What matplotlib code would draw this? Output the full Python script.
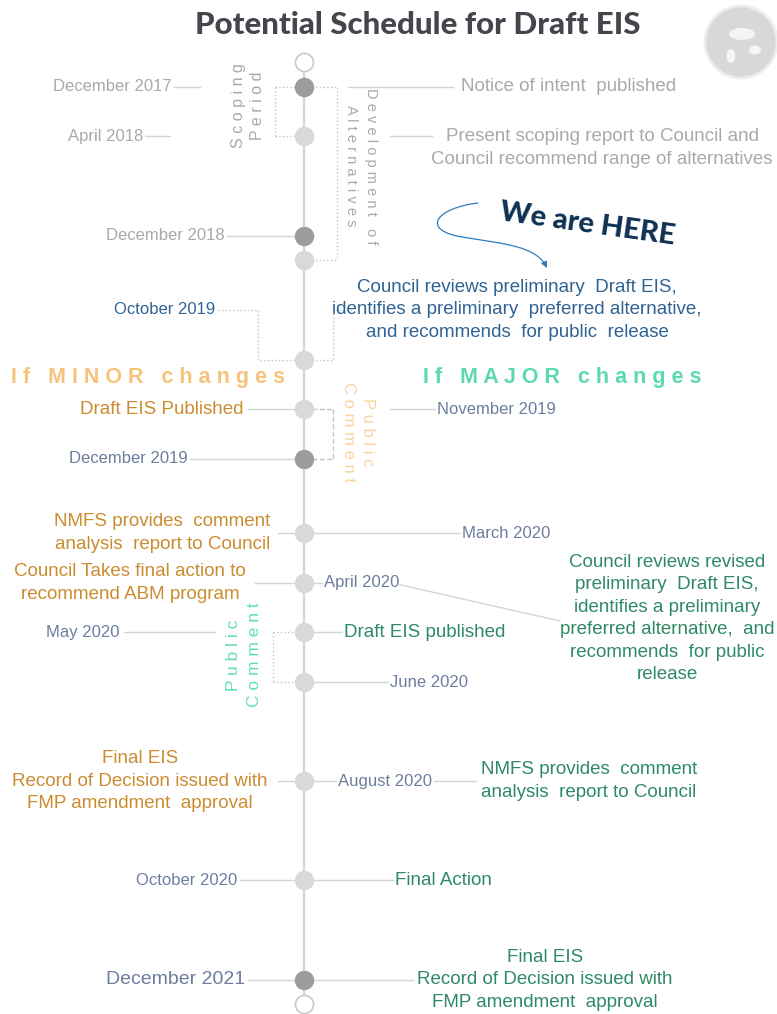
import matplotlib.pyplot as plt
from matplotlib.patches import Ellipse, FancyArrowPatch
from matplotlib.path import Path

# timeline events: row on the drawing grid, date label, dark (milestone) node
rows = [1, 3, 7, 8, 12, 14, 16, 19, 21, 23, 25, 29, 33, 37]
dates = ['December 2017', 'April 2018', 'December 2018', '', 'October 2019',
         'November 2019', 'December 2019', 'March 2020', 'April 2020',
         'May 2020', 'June 2020', 'August 2020', 'October 2020', 'December 2021']
dark = [1, 0, 1, 0, 0, 0, 1, 0, 0, 0, 0, 0, 0, 1]
start_row, end_row = 0, 38

early_events = ['Notice of intent  published',
                'Present scoping report to Council and\nCouncil recommend range of alternatives']
current_event = ('Council reviews preliminary  Draft EIS,\n'
                 'identifies a preliminary  preferred alternative,\n'
                 'and recommends  for public  release')
minor_events = ['Draft EIS Published',
                'NMFS provides  comment\nanalysis  report to Council',
                'Council Takes final action to\nrecommend ABM program',
                'Final EIS\nRecord of Decision issued with\nFMP amendment  approval']
major_events = ['Council reviews revised\npreliminary  Draft EIS,\nidentifies a preliminary\n'
                'preferred alternative,  and\nrecommends  for public\nrelease',
                'Draft EIS published',
                'NMFS provides  comment\nanalysis  report to Council',
                'Final Action',
                'Final EIS\nRecord of Decision issued with\nFMP amendment  approval']

GRAY_TXT = '#a9a9a9'
SLATE = '#6d7d9e'
BLUE = '#2f6394'
ORANGE = '#cb8c30'
GREEN = '#2e8a64'
LINE = '#d4d4d4'
DOT = '#c4c4c4'
FONT = 'Liberation Sans'


def R(py):
    # pixel height on the page -> timeline row
    return (py - 62) / 24.8


def Y(i):
    return rows[dates.index(i)]


fig = plt.figure(figsize=(7.77, 10.14), dpi=100)
ax = fig.add_axes([0, 0, 1, 1])
ax.set_xlim(0, 777)
ax.set_ylim(R(1014), R(0))
ax.axis('off')

X0 = 304

# spine and nodes
ax.plot([X0, X0], [start_row, end_row], color=LINE, lw=1.6, zorder=1)
for r, d in zip(rows, dark):
    ax.plot(X0, r, 'o', ms=13, color='#9c9c9c' if d else '#d9d9d9', zorder=3)
for r in [start_row, end_row]:
    ax.plot(X0, r, 'o', ms=13, mfc='white', mec='#c9c9c9', mew=1.2, zorder=3)


def hline(x1, x2, r, ls='-', c=LINE, lw=1.0):
    ax.plot([x1, x2], [r, r], color=c, lw=lw, ls=ls, zorder=2)


def date(txt, x, side, size=12, c=SLATE, r=None):
    ha = 'right' if side == 'L' else 'left'
    ax.text(x, Y(txt) if r is None else r, txt, ha=ha, va='center', fontsize=size,
            color=c, family=FONT)


def event(txt, x, r, c, ha='center', size=13.5):
    ax.text(x, r, txt, ha=ha, va='center', fontsize=size, color=c, family=FONT,
            linespacing=1.42, multialignment=ha if ha != 'center' else 'center')


# title + logo
ax.text(418, R(25), 'Potential Schedule for Draft EIS', ha='center', va='center',
        fontsize=22.5, fontweight='black', color='#45464d', family='Lato')
ax.add_patch(Ellipse((741, R(42)), 72, 72 / 24.8, fc='#d8d8d8', ec='#ededed', lw=2))
ax.add_patch(Ellipse((742, R(34)), 26, 12 / 24.8, angle=0, fc='#f4f4f4', ec='none'))
ax.add_patch(Ellipse((731, R(56)), 9, 14 / 24.8, fc='#f4f4f4', ec='none'))
ax.add_patch(Ellipse((755, R(50)), 12, 9 / 24.8, fc='#f4f4f4', ec='none'))

# --- scoping / alternatives
date('December 2017', 172, 'L', c=GRAY_TXT)
hline(174, 200, Y('December 2017'))
date('April 2018', 143, 'L', c=GRAY_TXT)
hline(145, 170, Y('April 2018'))
date('December 2018', 225, 'L', c=GRAY_TXT)
hline(227, 296, Y('December 2018'))

hline(348, 453, rows[0])
ax.text(461, rows[0], early_events[0], ha='left', va='center', fontsize=13.5,
        color=GRAY_TXT, family=FONT)
hline(390, 432, rows[1])
event(early_events[1], 602, R(148), GRAY_TXT)

# scoping bracket
hline(275, 296, rows[0], ls=':', c=DOT)
hline(275, 296, rows[1], ls=':', c=DOT)
ax.plot([275, 275], [rows[0], rows[1]], color=DOT, lw=1, ls=':')
ax.text(248, R(106), 'S c o p i n g\nP e r i o d', rotation=90, ha='center', va='center',
        fontsize=11.5, color=GRAY_TXT, family=FONT, linespacing=1.4)

# alternatives bracket
hline(312, 337, rows[0], ls=':', c=DOT)
hline(312, 337, rows[3], ls=':', c=DOT)
ax.plot([337, 337], [rows[0], rows[3]], color=DOT, lw=1, ls=':')
ax.text(361, R(166), 'D e v e l o p m e n t   o f\nA l t e r n a t i v e s', rotation=270,
        ha='center', va='center', fontsize=10.5, color=GRAY_TXT, family=FONT, linespacing=1.5)

# --- current step
r10 = Y('October 2019') - 2
date('October 2019', 215, 'L', c=BLUE, r=r10)
ax.plot([218, 258, 258, 296], [r10, r10, Y('October 2019'), Y('October 2019')],
        color=DOT, lw=1, ls=':')
ax.plot([312, 333, 333, 352], [Y('October 2019'), Y('October 2019'), r10, r10],
        color=DOT, lw=1, ls=':')
event(current_event, 517, r10, BLUE)

ax.text(588, R(224), 'We are HERE', rotation=-8, ha='center', va='center',
        fontsize=21, fontweight='black', color='#0f3152', family='Lato')
arrow_path = Path([(478, R(203)), (436, R(208)), (420, R(230)), (462, R(237)),
                   (505, R(244)), (536, R(246)), (547, R(268))],
                  [Path.MOVETO, Path.CURVE4, Path.CURVE4, Path.CURVE4,
                   Path.CURVE4, Path.CURVE4, Path.CURVE4])
ax.add_patch(FancyArrowPatch(path=arrow_path, arrowstyle='-|>', mutation_scale=9,
                             color='#2f7cc0', lw=0.9))

# headers
ax.text(148, R(378), 'I f   M I N O R   c h a n g e s', ha='center', va='center',
        fontsize=15.5, fontweight='bold', color='#f7c37c', family=FONT)
ax.text(562, R(378), 'I f   M A J O R   c h a n g e s', ha='center', va='center',
        fontsize=15.5, fontweight='bold', color='#5cd9af', family=FONT)

# --- public comment (minor)
hline(248, 296, Y('November 2019'))
event(minor_events[0], 243, Y('November 2019'), ORANGE, ha='right')
hline(390, 435, Y('November 2019'))
date('November 2019', 437, 'R')
date('December 2019', 188, 'L')
hline(190, 296, Y('December 2019'))
hline(312, 333, Y('November 2019'), ls='--', c=DOT)
hline(312, 333, Y('December 2019'), ls='--', c=DOT)
ax.plot([333, 333], [Y('November 2019'), Y('December 2019')], color=DOT, lw=1, ls='--')
ax.text(358, R(432), 'P u b l i c\nC o m m e n t', rotation=270, ha='center', va='center',
        fontsize=12, color='#f9d4a2', family=FONT, linespacing=1.4)

# March / April 2020
event(minor_events[1], 270, Y('March 2020'), ORANGE, ha='right')
hline(278, 296, Y('March 2020'))
hline(312, 460, Y('March 2020'))
date('March 2020', 462, 'R')

event(minor_events[2], 130, Y('April 2020'), ORANGE)
hline(255, 296, Y('April 2020'))
hline(312, 322, Y('April 2020'))
date('April 2020', 324, 'R')
ax.plot([400, 560], [Y('April 2020') + 0.08, R(621)], color=LINE, lw=1)
event(major_events[0], 667, R(618.5), GREEN)

# public comment (major)
date('May 2020', 120, 'L')
hline(124, 215, Y('May 2020'))
hline(312, 342, Y('May 2020'))
event(major_events[1], 344, Y('May 2020'), GREEN, ha='left')
hline(312, 388, Y('June 2020'))
date('June 2020', 390, 'R')
hline(273, 296, Y('May 2020'), ls=':', c=DOT)
hline(273, 296, Y('June 2020'), ls=':', c=DOT)
ax.plot([273, 273], [Y('May 2020'), Y('June 2020')], color=DOT, lw=1, ls=':')
ax.text(244, R(655), 'P u b l i c\nC o m m e n t', rotation=90, ha='center', va='center',
        fontsize=12.5, color='#5fdfb6', family=FONT, linespacing=1.5)

# August / October 2020
event(minor_events[3], 140, Y('August 2020'), ORANGE)
hline(278, 296, Y('August 2020'))
hline(312, 336, Y('August 2020'))
date('August 2020', 338, 'R')
hline(434, 476, Y('August 2020'))
event(major_events[2], 481, Y('August 2020'), GREEN, ha='left')

date('October 2020', 237, 'L')
hline(240, 296, Y('October 2020'))
hline(312, 393, Y('October 2020'))
event(major_events[3], 395, Y('October 2020'), GREEN, ha='left')

# final
date('December 2021', 245, 'L', size=14)
hline(248, 296, Y('December 2021'))
hline(312, 413, Y('December 2021'))
event(major_events[4], 545, Y('December 2021'), GREEN)

fig.savefig('out.png', dpi=100, facecolor='white')
